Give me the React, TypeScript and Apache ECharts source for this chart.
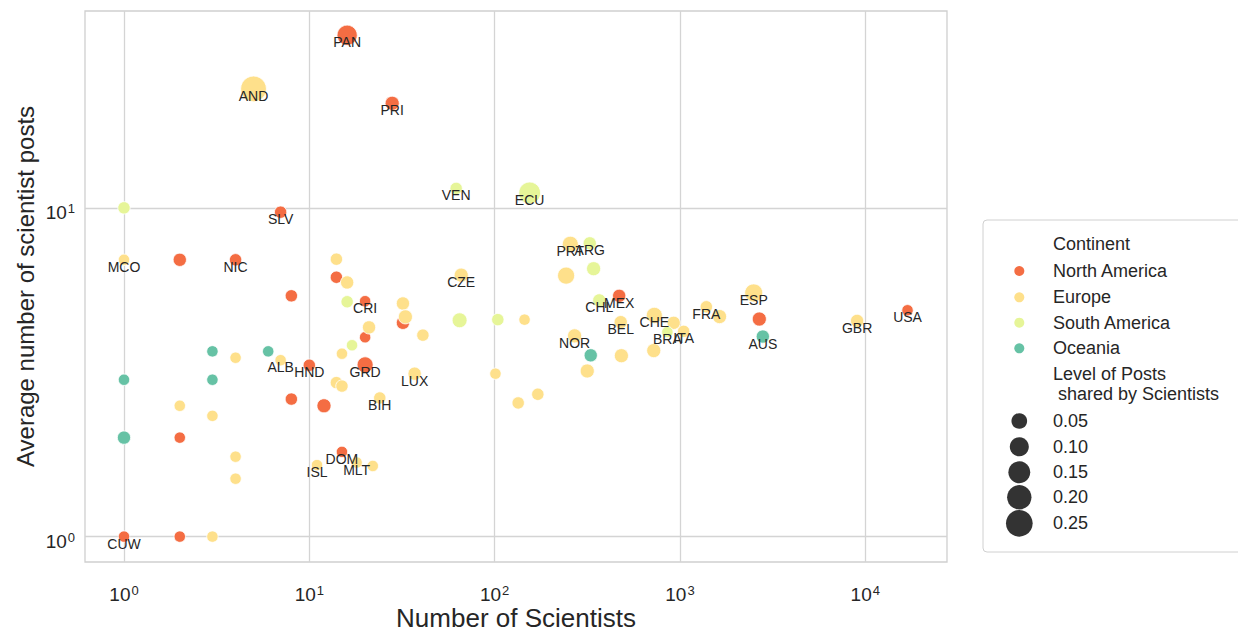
import React, { useEffect, useRef } from "react";
import * as echarts from "echarts";

const CONTINENTS = ["North America", "Europe", "South America", "Oceania"];
const COLORS = ["#f46d43", "#fee08b", "#e6f598", "#66c2a5"];

// [number of scientists, average posts, level of posts shared, country code]
const northAmerica: [number, number, number, string][] = [
  [16, 33.5, 0.12, "PAN"],
  [28, 20.8, 0.03, "PRI"],
  [7, 9.7, 0.01, "SLV"],
  [2, 6.95, 0.02, ""],
  [4, 6.95, 0.01, "NIC"],
  [14, 6.15, 0.01, ""],
  [8, 5.4, 0.01, ""],
  [20, 5.2, 0.0, "CRI"],
  [32, 4.47, 0.02, ""],
  [20, 4.04, 0.0, ""],
  [10, 3.32, 0.01, "HND"],
  [20, 3.33, 0.055, "GRD"],
  [8, 2.62, 0.01, ""],
  [12, 2.5, 0.03, ""],
  [15, 1.81, 0.0, "DOM"],
  [2, 2.0, 0.0, ""],
  [1, 1.0, 0.0, "CUW"],
  [2, 1.0, 0.0, ""],
  [470, 5.4, 0.02, "MEX"],
  [2680, 4.59, 0.03, ""],
  [16900, 4.88, 0.0, "USA"],
];

const europe: [number, number, number, string][] = [
  [5, 23, 0.23, "AND"],
  [1, 6.95, 0.0, "MCO"],
  [14, 6.98, 0.01, ""],
  [16, 5.93, 0.02, ""],
  [66, 6.24, 0.03, "CZE"],
  [32, 5.12, 0.02, ""],
  [33, 4.66, 0.03, ""],
  [21, 4.33, 0.02, ""],
  [41, 4.1, 0.01, ""],
  [15, 3.6, 0.0, ""],
  [7, 3.44, 0.0, "ALB"],
  [4, 3.5, 0.0, ""],
  [14, 2.94, 0.01, ""],
  [15, 2.87, 0.01, ""],
  [37, 3.13, 0.02, "LUX"],
  [24, 2.64, 0.01, "BIH"],
  [2, 2.5, 0.0, ""],
  [3, 2.33, 0.0, ""],
  [4, 1.75, 0.0, ""],
  [4, 1.5, 0.0, ""],
  [11, 1.65, 0.0, "ISL"],
  [18, 1.68, 0.0, "MLT"],
  [22, 1.64, 0.0, ""],
  [3, 1.0, 0.0, ""],
  [101, 3.13, 0.0, ""],
  [145, 4.57, 0.0, ""],
  [134, 2.55, 0.01, ""],
  [171, 2.71, 0.01, ""],
  [256, 7.75, 0.055, "PRT"],
  [243, 6.22, 0.07, ""],
  [2500, 5.51, 0.085, "ESP"],
  [270, 4.08, 0.03, "NOR"],
  [479, 4.49, 0.02, "BEL"],
  [727, 4.71, 0.055, "CHE"],
  [925, 4.47, 0.02, ""],
  [1047, 4.21, 0.01, "ITA"],
  [483, 3.55, 0.03, ""],
  [722, 3.68, 0.03, ""],
  [316, 3.19, 0.03, ""],
  [1388, 5.0, 0.01, "FRA"],
  [1635, 4.67, 0.03, ""],
  [9033, 4.53, 0.02, "GBR"],
];

const southAmerica: [number, number, number, string][] = [
  [1, 10.0, 0.01, ""],
  [62, 11.46, 0.01, "VEN"],
  [154.5, 11.1, 0.15, "ECU"],
  [326, 7.8, 0.02, "ARG"],
  [342, 6.53, 0.03, ""],
  [367, 5.23, 0.02, "CHL"],
  [16, 5.18, 0.01, ""],
  [17, 3.82, 0.0, ""],
  [64.7, 4.55, 0.04, ""],
  [104, 4.57, 0.01, ""],
  [855, 4.19, 0.0, "BRA"],
];

const oceania: [number, number, number, string][] = [
  [1, 3.0, 0.0, ""],
  [1, 2.0, 0.02, ""],
  [3, 3.66, 0.0, ""],
  [3, 3.0, 0.0, ""],
  [6, 3.66, 0.0, ""],
  [330, 3.56, 0.02, ""],
  [2800, 4.06, 0.02, "AUS"],
];

const X_RANGE = [0.616, 27600];
const Y_RANGE = [0.837, 39.7];
const X_TICK_EXPONENTS = [0, 1, 2, 3, 4];
const Y_TICK_EXPONENTS = [0, 1];
const SIZE_LEVELS = [0.05, 0.1, 0.15, 0.2, 0.25];

const FONT = "Liberation Sans, Arial, Helvetica, sans-serif";
const TEXT = "#262626";

function sizeFor(level: number) {
  return Math.sqrt(130 + 2330 * level);
}

const supRich = {
  b: { fontSize: 19, color: TEXT, fontFamily: FONT },
  s: { fontSize: 13, color: TEXT, fontFamily: FONT, verticalAlign: "top", padding: [0, 0, 8, 1] },
};

export default function App() {
  const ref = useRef<HTMLDivElement>(null);
  useEffect(() => {
    if (!ref.current) return;
    const chart = echarts.init(ref.current, null, { renderer: "svg" });
    const groups = [northAmerica, europe, southAmerica, oceania];

    const series = groups.map((g, i) => ({
      type: "scatter",
      name: CONTINENTS[i],
      data: g.map((d) => ({
        name: d[3],
        value: [Math.log10(d[0]), Math.log10(d[1])],
        symbolSize: sizeFor(d[2]),
      })),
      itemStyle: { color: COLORS[i], borderColor: "#ffffff", borderWidth: 0.8, opacity: 1 },
      label: {
        show: true,
        position: "inside",
        offset: [0, 7],
        formatter: "{b}",
        color: TEXT,
        fontSize: 14,
        fontFamily: FONT,
      },
      emphasis: { disabled: true },
    }));

    const legendX = 1053;
    const circleX = 1019.3;
    const legendRows = [271, 297.3, 322.7, 348.3];
    const sizeRows = [421, 446.7, 472.3, 497.3, 523.3];
    const txt = (text: string, x: number, y: number) => ({
      type: "text",
      style: { text, x, y, fill: TEXT, fontSize: 18, fontFamily: FONT, verticalAlign: "middle", align: "left" },
    });
    const graphic: any[] = [
      {
        type: "rect",
        shape: { x: 983, y: 220, width: 290, height: 332, r: 4 },
        style: { fill: "#ffffff", stroke: "#d0d0d0", lineWidth: 1 },
      },
      txt("Continent", legendX, 244.3),
      ...CONTINENTS.map((c, i) => txt(c, legendX, legendRows[i])),
      ...CONTINENTS.map((c, i) => ({
        type: "circle",
        shape: { cx: circleX, cy: legendRows[i], r: 5 },
        style: { fill: COLORS[i] },
      })),
      txt("Level of Posts", legendX, 374.3),
      txt("shared by Scientists", legendX + 5, 394),
      ...SIZE_LEVELS.map((l, i) => txt(l.toFixed(2), legendX, sizeRows[i])),
      ...SIZE_LEVELS.map((l, i) => ({
        type: "circle",
        shape: { cx: circleX, cy: sizeRows[i], r: sizeFor(l) / 2 },
        style: { fill: "#333333" },
      })),
    ];

    chart.setOption({
      animation: false,
      backgroundColor: "#ffffff",
      textStyle: { fontFamily: FONT },
      grid: {
        left: 85,
        top: 11,
        width: 862,
        height: 551,
        show: true,
        borderColor: "#cfcfcf",
        borderWidth: 1.3,
        backgroundColor: "transparent",
        containLabel: false,
        outerBoundsMode: "none",
      },
      xAxis: {
        type: "value",
        min: Math.log10(X_RANGE[0]),
        max: Math.log10(X_RANGE[1]),
        name: "Number of Scientists",
        nameLocation: "middle",
        nameGap: 43,
        nameMoveOverlap: false,
        nameTextStyle: { fontSize: 26, color: TEXT, fontFamily: FONT, lineHeight: 26 },
        axisLine: { show: false },
        axisTick: { show: false, customValues: X_TICK_EXPONENTS },
        axisLabel: {
          customValues: X_TICK_EXPONENTS,
          margin: 22,
          formatter: (v: number) => `{b|10}{s|${Math.round(v)}}`,
          rich: supRich,
        },
        splitLine: { show: true, lineStyle: { color: "#d4d4d4", width: 1.3 } },
      },
      yAxis: {
        type: "value",
        min: Math.log10(Y_RANGE[0]),
        max: Math.log10(Y_RANGE[1]),
        name: "Average number of scientist posts",
        nameLocation: "middle",
        nameGap: 48,
        nameMoveOverlap: false,
        nameTextStyle: { fontSize: 24, color: TEXT, fontFamily: FONT },
        axisLine: { show: false },
        axisTick: { show: false, customValues: Y_TICK_EXPONENTS },
        axisLabel: {
          customValues: Y_TICK_EXPONENTS,
          margin: 10,
          padding: [10, 0, 0, 0],
          formatter: (v: number) => `{b|10}{s|${Math.round(v)}}`,
          rich: supRich,
        },
        splitLine: { show: true, lineStyle: { color: "#d4d4d4", width: 1.3 } },
      },
      series,
      graphic,
    });
    return () => chart.dispose();
  }, []);
  return <div ref={ref} style={{ position: "absolute", left: 0, top: 0, width: 1238, height: 628 }} />;
}
